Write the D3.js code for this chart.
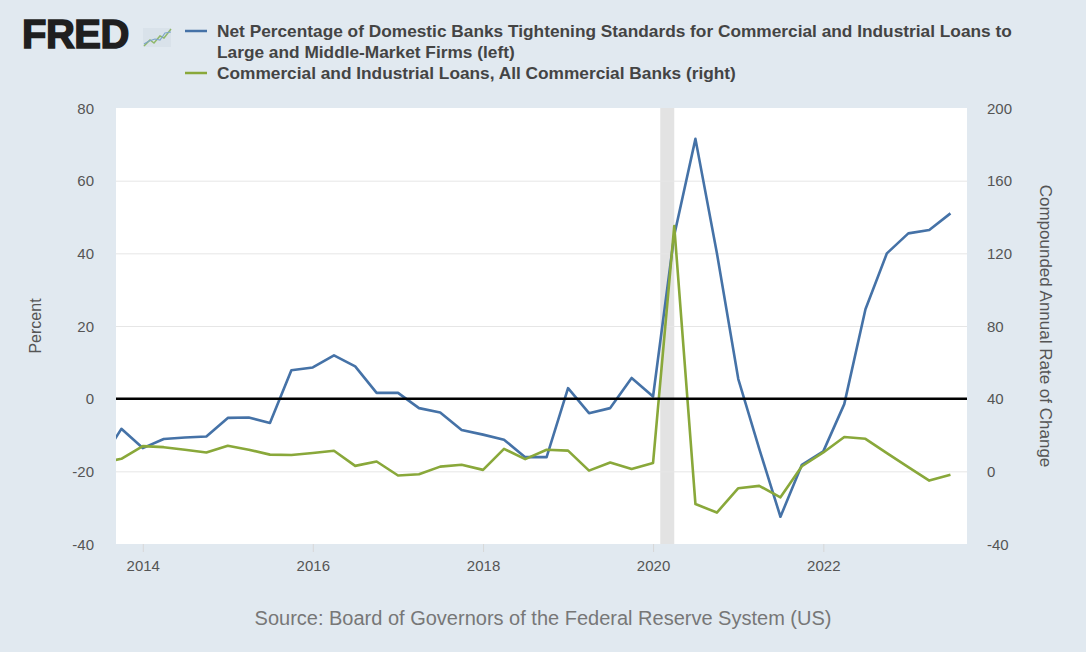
<!DOCTYPE html>
<html>
<head>
<meta charset="utf-8">
<script src="https://cdn.jsdelivr.net/npm/d3@7"></script>
<style>
  body { margin: 0; background: #e1e9f0; }
  svg { display: block; font-family: "Liberation Sans", Arial, sans-serif; }
</style>
</head>
<body>
<div id="chart"></div>
<script>
// quarterly observations (first one sits just left of the visible window)
const quarters = [
  "2013-07-01", "2013-10-01",
  "2014-01-01", "2014-04-01", "2014-07-01", "2014-10-01",
  "2015-01-01", "2015-04-01", "2015-07-01", "2015-10-01",
  "2016-01-01", "2016-04-01", "2016-07-01", "2016-10-01",
  "2017-01-01", "2017-04-01", "2017-07-01", "2017-10-01",
  "2018-01-01", "2018-04-01", "2018-07-01", "2018-10-01",
  "2019-01-01", "2019-04-01", "2019-07-01", "2019-10-01",
  "2020-01-01", "2020-04-01", "2020-07-01", "2020-10-01",
  "2021-01-01", "2021-04-01", "2021-07-01", "2021-10-01",
  "2022-01-01", "2022-04-01", "2022-07-01", "2022-10-01",
  "2023-01-01", "2023-04-01", "2023-07-01"
];
// net % tightening, large & middle-market firms (left axis)
const tightening = [
  -17.7, -8.3,
  -13.6, -11.1, -10.7, -10.4,
  -5.3, -5.2, -6.7, 7.8,
  8.6, 11.9, 8.9, 1.6,
  1.6, -2.6, -3.8, -8.6,
  -9.9, -11.3, -16.1, -16.1,
  2.9, -4.0, -2.6, 5.7,
  0.6, 45.0, 71.5, 40.1,
  5.4, -13.8, -32.5, -18.2,
  -14.5, -1.5, 24.6, 40.0,
  45.5, 46.4, 51.0
];
// C&I loans, compounded annual rate of change (right axis)
const ciLoans = [
  4.6, 6.9,
  13.9, 13.3, 11.9, 10.4,
  14.1, 11.9, 9.2, 9.0,
  10.1, 11.3, 3.0, 5.4,
  -2.3, -1.6, 2.6, 3.6,
  0.8, 12.4, 6.7, 11.9,
  11.4, 0.4, 4.9, 1.3,
  4.6, 135.0, -18.0, -22.7,
  -9.3, -8.0, -14.3, 2.8,
  10.4, 18.9, 17.9, 10.0,
  2.3, -5.1, -1.9
];
const leftTicks = [-40, -20, 0, 20, 40, 60, 80];
const rightTicks = [-40, 0, 40, 80, 120, 160, 200];
const yearTicks = ["2014", "2016", "2018", "2020", "2022"];
const recession = ["2020-02-01", "2020-04-01"];
const legendItems = [
  {color: "#4572a7", lines: ["Net Percentage of Domestic Banks Tightening Standards for Commercial and Industrial Loans to",
                            "Large and Middle-Market Firms (left)"]},
  {color: "#89a83a", lines: ["Commercial and Industrial Loans, All Commercial Banks (right)"]}
];

const W = 1086, H = 652;
const plot = {left: 116, right: 967, top: 108, bottom: 544};
const parse = d3.utcParse("%Y-%m-%d");

const svg = d3.select("#chart").append("svg")
    .attr("width", W)
    .attr("height", H);

svg.append("rect").attr("width", W).attr("height", H).attr("fill", "#e1e9f0");

const x = d3.scaleUtc()
    .domain([parse("2013-09-08"), parse("2023-09-10")])
    .range([plot.left, plot.right]);
const yL = d3.scaleLinear().domain([-40, 80]).range([plot.bottom, plot.top]);
const yR = d3.scaleLinear().domain([-40, 200]).range([plot.bottom, plot.top]);

svg.append("rect")
    .attr("x", plot.left).attr("y", plot.top)
    .attr("width", plot.right - plot.left).attr("height", plot.bottom - plot.top)
    .attr("fill", "#ffffff");

svg.append("clipPath").attr("id", "clip")
  .append("rect")
    .attr("x", plot.left).attr("y", plot.top)
    .attr("width", plot.right - plot.left).attr("height", plot.bottom - plot.top);

// recession band
svg.append("rect")
    .attr("x", x(parse(recession[0])))
    .attr("y", plot.top)
    .attr("width", x(parse(recession[1])) - x(parse(recession[0])))
    .attr("height", plot.bottom - plot.top)
    .attr("fill", "#e3e3e3");

// gridlines
svg.append("g")
  .selectAll("line")
  .data(leftTicks.filter(d => d !== 0 && d !== -40 && d !== 80))
  .join("line")
    .attr("x1", plot.left).attr("x2", plot.right)
    .attr("y1", d => yL(d) + 0.5).attr("y2", d => yL(d) + 0.5)
    .attr("stroke", "#e6e6e6");

const plain = d => String(d);

// left axis
const axisL = svg.append("g")
    .attr("transform", `translate(${plot.left - 22},0)`)
    .call(d3.axisLeft(yL).tickValues(leftTicks).tickFormat(plain).tickSize(0).tickPadding(0));
// right axis
const axisR = svg.append("g")
    .attr("transform", `translate(${plot.right + 20},0)`)
    .call(d3.axisRight(yR).tickValues(rightTicks).tickFormat(plain).tickSize(0).tickPadding(0));
// bottom axis
const axisB = svg.append("g")
    .attr("transform", `translate(0,${plot.bottom})`)
    .call(d3.axisBottom(x)
        .tickValues(yearTicks.map(d => parse(d + "-01-01")))
        .tickFormat(d3.utcFormat("%Y"))
        .tickSize(8).tickPadding(8));

[axisL, axisR, axisB].forEach(a => {
  a.select(".domain").remove();
  a.selectAll("text")
      .attr("fill", "#555")
      .style("font-size", "15px")
      .style("font-family", "'Liberation Sans', Arial, sans-serif");
  a.selectAll("line").attr("stroke", "#d8d8d8");
});
axisL.selectAll("text").attr("dy", "0.35em");
axisR.selectAll("text").attr("dy", "0.35em");

// axis titles
svg.append("text")
    .attr("transform", `translate(41,326) rotate(-90)`)
    .attr("text-anchor", "middle")
    .attr("fill", "#555")
    .style("font-size", "16px")
    .text("Percent");
svg.append("text")
    .attr("transform", `translate(1040,326) rotate(90)`)
    .attr("text-anchor", "middle")
    .attr("fill", "#555")
    .style("font-size", "17px")
    .text("Compounded Annual Rate of Change");

// series
const series = [
  {values: tightening, scale: yL, color: legendItems[0].color},
  {values: ciLoans, scale: yR, color: legendItems[1].color}
];
const lines = svg.append("g").attr("clip-path", "url(#clip)");
series.forEach(s => {
  const line = d3.line()
      .x((d, i) => x(parse(quarters[i])))
      .y(d => s.scale(d));
  lines.append("path")
      .datum(s.values)
      .attr("d", line)
      .attr("fill", "none")
      .attr("stroke", s.color)
      .attr("stroke-width", 2.6)
      .attr("stroke-linejoin", "round");
});

// zero line
svg.append("line")
    .attr("x1", plot.left).attr("x2", plot.right)
    .attr("y1", yL(0)).attr("y2", yL(0))
    .attr("stroke", "#000")
    .attr("stroke-width", 2.5);

// FRED logo
const logo = svg.append("g");
logo.append("text")
    .attr("x", 22).attr("y", 48)
    .attr("fill", "#1f1f1f")
    .attr("stroke", "#1f1f1f")
    .attr("stroke-width", 1.5)
    .style("font-size", "40px")
    .style("font-weight", "bold")
    .style("letter-spacing", "-0.5px")
    .text("FRED");
logo.append("rect")
    .attr("x", 143).attr("y", 28).attr("width", 28).attr("height", 19)
    .attr("fill", "#d9e2ea");
logo.append("polyline")
    .attr("points", "144,46 150,40 154,43 160,36 164,38 171,29")
    .attr("fill", "none").attr("stroke", "#8fb86a").attr("stroke-width", 1.5);
logo.append("polyline")
    .attr("points", "144,44 149,41 155,39 160,40 165,33 171,32")
    .attr("fill", "none").attr("stroke", "#7ea6c8").attr("stroke-width", 1.2);

// legend
let ly = 31;
const legend = svg.append("g");
legendItems.forEach(item => {
  legend.append("line")
      .attr("x1", 185).attr("x2", 207)
      .attr("y1", ly).attr("y2", ly)
      .attr("stroke", item.color)
      .attr("stroke-width", 2.5);
  item.lines.forEach(t => {
    legend.append("text")
        .attr("x", 217).attr("y", ly)
        .attr("dy", "0.35em")
        .attr("fill", "#444")
        .style("font-size", "17.3px")
        .style("font-weight", "bold")
        .text(t);
    ly += 21;
  });
});

// source
svg.append("text")
    .attr("x", 543).attr("y", 618)
    .attr("dy", "0.35em")
    .attr("text-anchor", "middle")
    .attr("fill", "#777")
    .style("font-size", "20px")
    .text("Source: Board of Governors of the Federal Reserve System (US)");
</script>
</body>
</html>
